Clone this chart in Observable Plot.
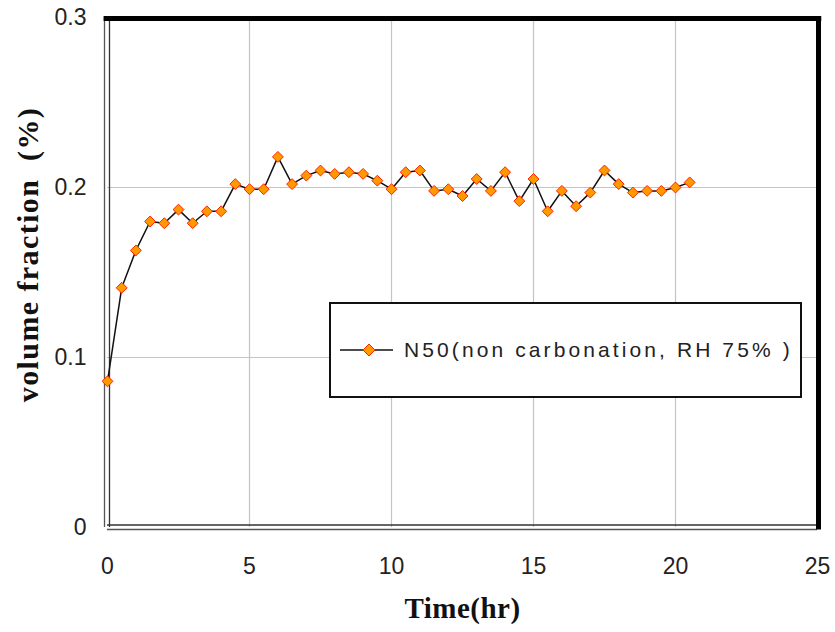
<!DOCTYPE html>
<html>
<head>
<meta charset="utf-8">
<script src="https://cdn.jsdelivr.net/npm/d3@7"></script>
<script src="https://cdn.jsdelivr.net/npm/@observablehq/plot@0.6"></script>
<style>
  html, body { margin: 0; padding: 0; background: #fff; }
  #wrap { position: relative; width: 835px; height: 632px; }
  #legend {
    position: absolute; left: 329px; top: 302px; width: 469px; height: 92px;
    border: 2px solid #111; background: #fff; box-sizing: content-box;
    font-family: "Liberation Sans", Arial, sans-serif; font-size: 21px; letter-spacing: 3.1px;
    color: #222;
  }
  #legend svg { position: absolute; left: 9px; top: 36px; }
  #legend span { position: absolute; left: 73px; top: 34px; white-space: pre; }
</style>
</head>
<body>
<div id="wrap"></div>
<script>
const timeHr = [0, 0.5, 1, 1.5, 2, 2.5, 3, 3.5, 4, 4.5, 5, 5.5, 6, 6.5, 7, 7.5, 8, 8.5, 9, 9.5, 10,
  10.5, 11, 11.5, 12, 12.5, 13, 13.5, 14, 14.5, 15, 15.5, 16, 16.5, 17, 17.5, 18, 18.5, 19, 19.5, 20, 20.5];
const volumeFraction = [0.086, 0.141, 0.163, 0.180, 0.179, 0.187, 0.179, 0.186, 0.186, 0.202, 0.199,
  0.199, 0.218, 0.202, 0.207, 0.210, 0.208, 0.209, 0.208, 0.204, 0.199,
  0.209, 0.210, 0.198, 0.199, 0.195, 0.205, 0.198, 0.209, 0.192, 0.205, 0.186, 0.198, 0.189, 0.197,
  0.210, 0.202, 0.197, 0.198, 0.198, 0.200, 0.203];
const xTicks = [0, 5, 10, 15, 20, 25];
const yTicks = [0, 0.1, 0.2, 0.3];
const xGrid = [5, 10, 15, 20];
const yGrid = [0.1, 0.2];
const seriesName = "N50(non carbonation, RH 75% )";
const xTitle = "Time(hr)";
const yTitle = "volume fraction  (%)";

const data = timeHr.map((t, i) => ({t, v: volumeFraction[i]}));

const chart = Plot.plot({
  width: 835,
  height: 632,
  marginLeft: 107,
  marginRight: 18,
  marginTop: 17,
  marginBottom: 105,
  style: {fontFamily: "Liberation Sans, Arial, sans-serif", fontSize: "23px", color: "#222", background: "#fff"},
  x: {domain: [0, 25], ticks: xTicks, tickSize: 0, tickPadding: 30, label: null},
  y: {domain: [0, 0.3], ticks: yTicks, tickSize: 0, tickPadding: 21, label: null, tickFormat: d => String(+d.toFixed(1))},
  marks: [
    Plot.ruleX(xGrid, {stroke: "#c4c4c4", strokeWidth: 1.2}),
    Plot.ruleY(yGrid, {stroke: "#c4c4c4", strokeWidth: 1.2}),
    // frame: double lines at left & bottom, thick black at top & right
    Plot.ruleX([0], {stroke: "#555", strokeWidth: 1.3, dx: -3}),
    Plot.ruleX([0], {stroke: "#333", strokeWidth: 1.3, dx: 2}),
    Plot.ruleY([0], {stroke: "#555", strokeWidth: 1.3, dy: 2}),
    Plot.ruleY([0], {stroke: "#333", strokeWidth: 1.3, dy: -2.5}),
    Plot.ruleY([0.3], {stroke: "#000", strokeWidth: 5, dy: 1, x1: -0.12, x2: 25.15}),
    Plot.ruleX([25], {stroke: "#000", strokeWidth: 5, dx: 1, y1: -0.0015, y2: 0.3}),
    Plot.line(data, {x: "t", y: "v", stroke: "#111", strokeWidth: 1.5}),
    Plot.dot(data, {x: "t", y: "v", symbol: "diamond2", r: 4.9, fill: "#ff9900", stroke: "#ff2200", strokeWidth: 1}),
    Plot.text([xTitle], {text: d => d, frameAnchor: "bottom", textAnchor: "middle", lineAnchor: "middle", dy: 81,
      fontFamily: "Liberation Serif, Times New Roman, serif", fontWeight: "bold", fontSize: 29, fill: "#111"}),
    Plot.text([yTitle], {text: d => d, frameAnchor: "left", textAnchor: "middle", lineAnchor: "middle", rotate: -90, dx: -79, dy: -18,
      fontFamily: "Liberation Serif, Times New Roman, serif", fontWeight: "bold", fontSize: 30, fill: "#111"})
  ]
});
chart.querySelectorAll("text").forEach(t => t.style.whiteSpace = "pre");
const texts = [...chart.querySelectorAll("text")];
texts.filter(t => t.textContent === yTitle).forEach(t => t.style.letterSpacing = "1.4px");
texts.filter(t => t.textContent === xTitle).forEach(t => t.style.letterSpacing = "0.5px");

const wrap = document.getElementById("wrap");
wrap.appendChild(chart);

const legend = document.createElement("div");
legend.id = "legend";
legend.innerHTML = `<svg width="60" height="20" viewBox="0 0 60 20">
  <line x1="0" y1="10" x2="53" y2="10" stroke="#111" stroke-width="1.5"/>
  <path d="M29,4 L35,10 L29,16 L23,10 Z" fill="#ff9900" stroke="#ff2200" stroke-width="1"/>
</svg><span></span>`;
legend.querySelector("span").textContent = seriesName;
wrap.appendChild(legend);
</script>
</body>
</html>
